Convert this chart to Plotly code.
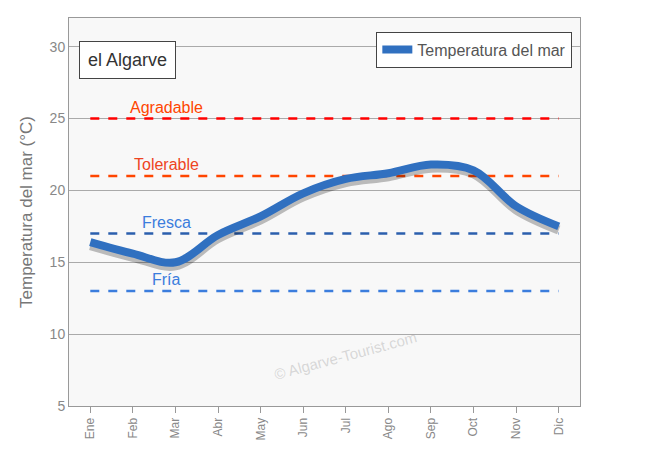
import plotly.graph_objects as go

months = ["Ene", "Feb", "Mar", "Abr", "May", "Jun", "Jul", "Ago", "Sep", "Oct", "Nov", "Dic"]
sea_temp = [16.4, 15.6, 15.0, 16.9, 18.2, 19.8, 20.8, 21.2, 21.8, 21.4, 18.9, 17.5]

band_names = ["Agradable", "Tolerable", "Fresca", "Fría"]
band_values = [25, 21, 17, 13]
band_colors = ["#ff0000", "#ff4500", "#2b5fad", "#3b7ddd"]
band_text_colors = ["#ff4500", "#ee4422", "#3b7ddd", "#3b7ddd"]

fig = go.Figure()

for name, val, col in zip(band_names, band_values, band_colors):
    fig.add_trace(go.Scatter(x=months, y=[val] * len(months), mode="lines",
                             line=dict(color=col, width=2.5, dash="dash"),
                             showlegend=False, hoverinfo="skip"))
for name, val, col in zip(band_names, band_values, band_text_colors):
    fig.add_annotation(x=1.8, y=val, text=name, showarrow=False, yanchor="bottom",
                       yshift=1, font=dict(size=16, color=col))

# shadow
fig.add_trace(go.Scatter(x=months, y=[v - 0.25 for v in sea_temp], mode="lines",
                         line=dict(color="rgba(0,0,0,0.25)", width=9, shape="spline"),
                         showlegend=False, hoverinfo="skip"))
fig.add_trace(go.Scatter(x=months, y=sea_temp, mode="lines", name="Temperatura del mar",
                         line=dict(color="#3070c0", width=8, shape="spline")))

fig.add_annotation(xref="paper", yref="paper", x=0.02, y=0.94, text="el Algarve",
                   showarrow=False, font=dict(size=18, color="#333"), bgcolor="white",
                   bordercolor="#444", borderwidth=1, borderpad=8)
fig.add_annotation(x="Jul", y=8.5, text="© Algarve-Tourist.com", showarrow=False,
                   textangle=-15, font=dict(size=15, color="rgba(150,150,150,0.35)"))

fig.update_layout(
    width=650, height=450,
    margin=dict(l=61, r=78, t=10, b=52),
    paper_bgcolor="white", plot_bgcolor="#f8f8f8",
    font=dict(family="Liberation Sans, Arial", color="#666"),
    legend=dict(x=0.985, y=0.965, xanchor="right", yanchor="top", bgcolor="white",
                bordercolor="#444", borderwidth=1, font=dict(size=16, color="#555")),
    xaxis=dict(range=[-0.5, 11.5], showgrid=False, tickangle=-90, ticks="outside",
               ticklen=6, tickcolor="#999", showline=True, linecolor="#999",
               tickfont=dict(size=12, color="#888")),
    yaxis=dict(range=[5, 32], tickvals=[5, 10, 15, 20, 25, 30], gridcolor="#aaa",
               showline=True, linecolor="#999", mirror=True,
               tickfont=dict(size=14, color="#888"),
               title=dict(text="Temperatura del mar (°C)", font=dict(size=17, color="#777"),
                          standoff=12)),
)
fig.update_xaxes(mirror=True)

fig.write_html("out.html")
